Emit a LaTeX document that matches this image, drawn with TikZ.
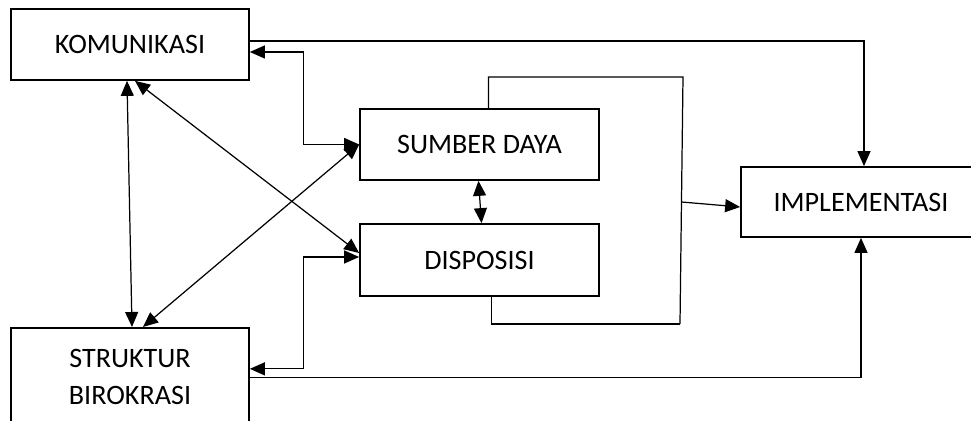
\documentclass[tikz,border=0pt]{standalone}
\usepackage{fontspec}
\setmainfont{Carlito}
\usetikzlibrary{arrows.meta}

\begin{document}
\begin{tikzpicture}[x=0.02cm, y=-0.02cm,
    box/.style={draw, line width=1pt, inner sep=0pt, align=center,
      font=\fontsize{16}{21}\selectfont},
    arr/.style={line width=0.7pt, -{Triangle[length=0.3cm, width=0.26cm]}},
    dbl/.style={line width=0.7pt, {Triangle[length=0.3cm, width=0.26cm]}-{Triangle[length=0.3cm, width=0.26cm]}}]
  \clip (0,0) rectangle (971,421);
  % boxes
  \node[box, minimum width=4.76cm, minimum height=1.42cm] (kom) at (130,44.5) {KOMUNIKASI};
  \node[box, minimum width=4.78cm, minimum height=1.42cm] (sum) at (479.5,144.5) {SUMBER DAYA};
  \node[box, minimum width=4.78cm, minimum height=1.44cm] (dis) at (479.5,260) {DISPOSISI};
  \node[box, minimum width=4.8cm, minimum height=1.4cm] (imp) at (861,202) {IMPLEMENTASI};
  \node[box, minimum width=4.76cm, minimum height=1.96cm, anchor=north] (str) at (130,327) {STRUKTUR\\BIROKRASI};
  % joins on the right
  \coordinate (jt) at (683,77);
  \coordinate (jb) at (680,324);
  \coordinate (jm) at (681.5,202);
  % connectors
  \draw[arr] ([yshift=0.07cm]kom.east) -| ([xshift=0.06cm]imp.north);
  \draw[dbl] ([yshift=-0.15cm]kom.east) -| ([xshift=-1.12cm]sum.west) -- (sum.west);
  \draw[dbl] ([xshift=-0.06cm]kom.south) -- ([xshift=0.04cm]str.north);
  \draw[dbl] ([xshift=0.1cm]kom.south) -- ([yshift=0.14cm]dis.west);
  \draw[dbl] (sum.west) -- ([xshift=0.26cm]str.north);
  \draw[dbl] ([yshift=0.16cm]str.east) -| ([xshift=-1.12cm,yshift=0.06cm]dis.west) -- ([yshift=0.06cm]dis.west);
  \draw[arr] ([yshift=-0.02cm]str.east) -| (imp.south);
  \draw[dbl] ([xshift=-0.02cm]sum.south) -- ([xshift=0.04cm]dis.north);
  \draw[line width=0.7pt] ([xshift=0.18cm]sum.north) |- (jt) -- (jb);
  \draw[line width=0.7pt] ([xshift=0.24cm]dis.south) |- (jb);
  \draw[arr] (jm) -- ([yshift=-0.1cm]imp.west);
\end{tikzpicture}
\end{document}
